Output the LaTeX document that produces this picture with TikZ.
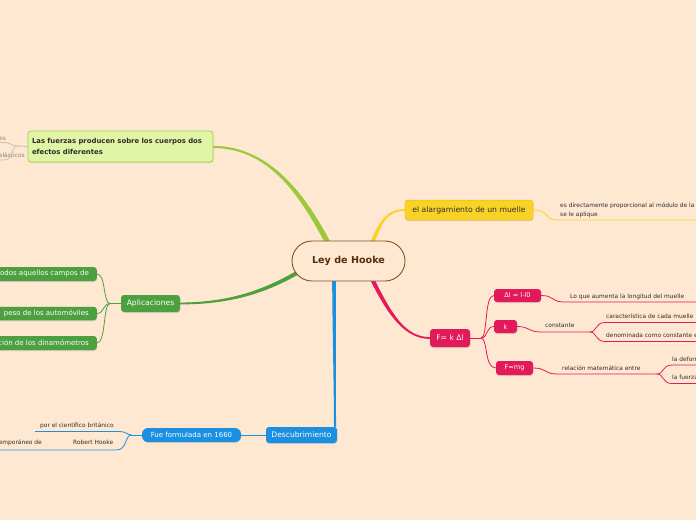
\documentclass[tikz,border=0pt]{standalone}
\usepackage{fontspec}
\setmainfont{DejaVu Sans}
\usetikzlibrary{shadows}
\definecolor{bg}{RGB}{254,232,210}
\definecolor{brownb}{RGB}{130,80,35}
\definecolor{brownt}{RGB}{85,45,10}
\definecolor{lime}{RGB}{157,200,60}
\definecolor{limefill}{RGB}{224,245,166}
\definecolor{limeborder}{RGB}{163,209,75}
\definecolor{yel}{RGB}{249,210,40}
\definecolor{yelborder}{RGB}{235,190,20}
\definecolor{pink}{RGB}{226,26,92}
\definecolor{gr}{RGB}{76,160,64}
\definecolor{blu}{RGB}{27,143,224}
\definecolor{txt}{RGB}{50,45,40}
\definecolor{grayl}{RGB}{200,192,182}
\begin{document}
\begin{tikzpicture}[x=1pt,y=-1pt,
  box/.style={rounded corners=3pt, inner sep=0pt, align=center,
     drop shadow={opacity=0.25, shadow xshift=0.4pt, shadow yshift=-1pt}},
  leaf/.style={font=\fontsize{5.9pt}{7pt}\selectfont, text=txt, inner sep=0pt, anchor=base west},
  pinkbox/.style={box, fill=pink, text=white},
  greenbox/.style={box, fill=gr, text=white},
  bluebox/.style={box, fill=blu, text=white},
  thin/.style={line width=0.8pt},
]
\fill[bg] (0,0) rectangle (696,520);
\useasboundingbox (0,0) rectangle (696,520);

% ---------- nodes ----------
\node[box, fill=limefill, draw=limeborder, line width=0.8pt, minimum width=185pt, minimum height=31pt,
      text width=177pt, align=left, text=txt, font=\bfseries\fontsize{6.9pt}{10.8pt}\selectfont]
      (fz) at (120.5,146.5) {Las fuerzas producen sobre los cuerpos dos efectos diferentes};

\node[box, fill=yel, draw=yelborder, line width=0.5pt, minimum width=128pt, minimum height=20pt,
      text=txt, font=\fontsize{7.7pt}{9pt}\selectfont] (al) at (469,210) {el alargamiento de un muelle};

\node[pinkbox, minimum width=40pt, minimum height=18pt, font=\fontsize{7.6pt}{9pt}\selectfont] (fk) at (450,338) {F= k Δl};
\node[pinkbox, minimum width=47pt, minimum height=13pt, font=\fontsize{6.6pt}{8pt}\selectfont] (dl) at (517.5,295.5) {Δl = l-l0};
\node[pinkbox, minimum width=23pt, minimum height=13pt, font=\fontsize{6.6pt}{8pt}\selectfont] (kk) at (505.5,326.5) {k};
\node[pinkbox, minimum width=37pt, minimum height=14pt, font=\fontsize{6.6pt}{8pt}\selectfont] (fm) at (514.5,368) {F=mg};

\node[greenbox, minimum width=59pt, minimum height=17pt, font=\fontsize{7.6pt}{9pt}\selectfont] (ap) at (150.5,303.5) {Aplicaciones};
\node[greenbox, anchor=east, inner xsep=8pt, minimum height=14pt, font=\fontsize{7pt}{8pt}\selectfont] (g1) at (97,274) {odos aquellos campos de};
\node[greenbox, anchor=east, inner xsep=8pt, minimum height=13.5pt, font=\fontsize{7pt}{8pt}\selectfont] (g2) at (97,313.5) {peso de los automóviles};
\node[greenbox, anchor=east, inner xsep=8pt, minimum height=14pt, font=\fontsize{7pt}{8pt}\selectfont] (g3) at (97,343) {ción de los dinamómetros};

\node[bluebox, minimum width=71pt, minimum height=16pt, font=\fontsize{7.6pt}{9pt}\selectfont] (de) at (301.5,435) {Descubrimiento};
\node[bluebox, rounded corners=6pt, minimum width=99pt, minimum height=14pt, font=\fontsize{7pt}{8pt}\selectfont] (ff) at (191.5,435) {Fue formulada en 1660};

% ---------- leaves ----------
\node[leaf] (y1) at (560,207.5) {es directamente proporcional al módulo de la};
\node[leaf] (y2) at (560,216) {se le aplique};
\node[leaf] (l1) at (570,298) {Lo que aumenta la longitud del muelle};
\node[leaf] (l2) at (545,327.8) {constante};
\node[leaf] (l3) at (606,318.8) {característica de cada muelle};
\node[leaf] (l4) at (606,337.5) {denominada como constante e};
\node[leaf] (l5) at (562,370) {relación matemática entre};
\node[leaf] (l6) at (672,361) {la deformación};
\node[leaf] (l7) at (672,379.5) {la fuerza};
\node[leaf] (b1) at (40,427) {por el científico británico};
\node[leaf] (b2) at (73,444) {Robert Hooke};
\node[leaf, anchor=base east] (b3) at (42,444) {contemporáneo de};
\node[leaf, text=gray] (t1) at (-1,140.5) {es};
\node[leaf, text=gray, anchor=base east] (t2) at (25,157.5) {elásticos};

% ---------- main tapered connectors ----------
\draw[lime, thin] (fz.east) .. controls (272,147) and (305,200) .. (328,243);
\fill[lime] (213,146) .. controls (272,146) and (307.4,198.7) .. (330.3,241.8) -- (325.7,244.2) .. controls (302.6,201.3) and (272,148) .. (213,148) -- cycle;
\draw[yel, thin] (al.west) .. controls (385,210) and (380,225) .. (372,243);
\fill[yel] (405,209.1) .. controls (385,209.1) and (378.2,224.2) .. (370.2,242.2) -- (373.8,243.8) .. controls (381.8,225.8) and (385,210.9) .. (405,210.9) -- cycle;
\draw[pink, thin] (fk.west) .. controls (405,338) and (390,315) .. (372,279);
\fill[pink] (430,337.1) .. controls (405,337.1) and (391.8,314.1) .. (373.8,278.1) -- (370.2,279.9) .. controls (388.2,315.9) and (405,338.9) .. (430,338.9) -- cycle;
\draw[gr, thin] (ap.east) .. controls (230,303) and (265,292) .. (302,270);
\fill[gr] (180,302.6) .. controls (230,302.1) and (264,290.3) .. (301,268.3) -- (303,271.7) .. controls (266,293.7) and (230,304.4) .. (180,304.4) -- cycle;
\draw[blu, thin] (de.north east) ++(-2.5,0) .. controls (335,390) and (334,320) .. (334,279);
\fill[blu] (336,427) .. controls (336,390) and (335.8,320) .. (335.8,279) -- (332.2,279) .. controls (332.2,320) and (334,390) .. (334,427) -- cycle;

% center node on top
\node[draw=brownb, line width=0.9pt, fill=bg, rounded corners=20pt, minimum width=113pt, minimum height=40pt,
      text=brownt, font=\bfseries\fontsize{9.6pt}{11pt}\selectfont] (c) at (348.5,261) {Ley de Hooke};

% yellow sub
\draw[yel, thin] (al.east) .. controls (550,210) and (543,220) .. (558,220) -- (700,220);
% pink subs
\coordinate (pb) at (481,338);
\draw[pink, thin] (fk.east) -- (pb);
\draw[pink, thin] (pb) .. controls (488,338) and (484,295.5) .. (dl.west);
\draw[pink, thin] (pb) .. controls (488,338) and (486,326.5) .. (kk.west);
\draw[pink, thin] (pb) .. controls (488,338) and (484,368) .. (fm.west);
\draw[pink, thin] (dl.east) .. controls (555,295.5) and (550,302) .. (565,302) -- (700,302);
\draw[pink, thin] (kk.east) .. controls (530,326.5) and (528,332) .. (541,332) -- (590,332) coordinate (kb);
\draw[pink, thin] (kb) .. controls (597,332) and (595,322.5) .. (605,322.5) -- (700,322.5);
\draw[pink, thin] (kb) .. controls (597,332) and (595,341.5) .. (605,341.5) -- (700,341.5);
\draw[pink, thin] (fm.east) .. controls (547,368) and (544,374) .. (557,374) -- (657,374) coordinate (mb);
\draw[pink, thin] (mb) .. controls (664,374) and (662,365) .. (672,365) -- (700,365);
\draw[pink, thin] (mb) .. controls (664,374) and (662,383.5) .. (672,383.5) -- (700,383.5);
% green subs
\coordinate (gb) at (110,303.5);
\draw[gr, thin] (ap.west) -- (gb);
\draw[gr, thin] (gb) .. controls (103,303.5) and (106,274) .. (g1.east);
\draw[gr, thin] (gb) .. controls (103,303.5) and (104,313.5) .. (g2.east);
\draw[gr, thin] (gb) .. controls (103,303.5) and (106,343) .. (g3.east);
% blue subs
\draw[blu, thin] (de.west) -- (ff.east);
\coordinate (bb) at (132,435);
\draw[blu, thin] (ff.west) -- (bb);
\draw[blu, thin] (bb) .. controls (126,435) and (128,431.5) .. (118,431.5) -- (35,431.5);
\draw[blu, thin] (bb) .. controls (124,435) and (128,450) .. (116,450) -- (-5,450);
% gray subs
\coordinate (gyb) at (18,146);
\draw[grayl, thin] (fz.west) -- (gyb);
\draw[grayl, thin] (gyb) .. controls (10,146) and (12,142.5) .. (4,142.5) -- (-5,142.5);
\draw[grayl, thin] (gyb) .. controls (10,146) and (14,160) .. (4,160) -- (-5,160);
\end{tikzpicture}
\end{document}
